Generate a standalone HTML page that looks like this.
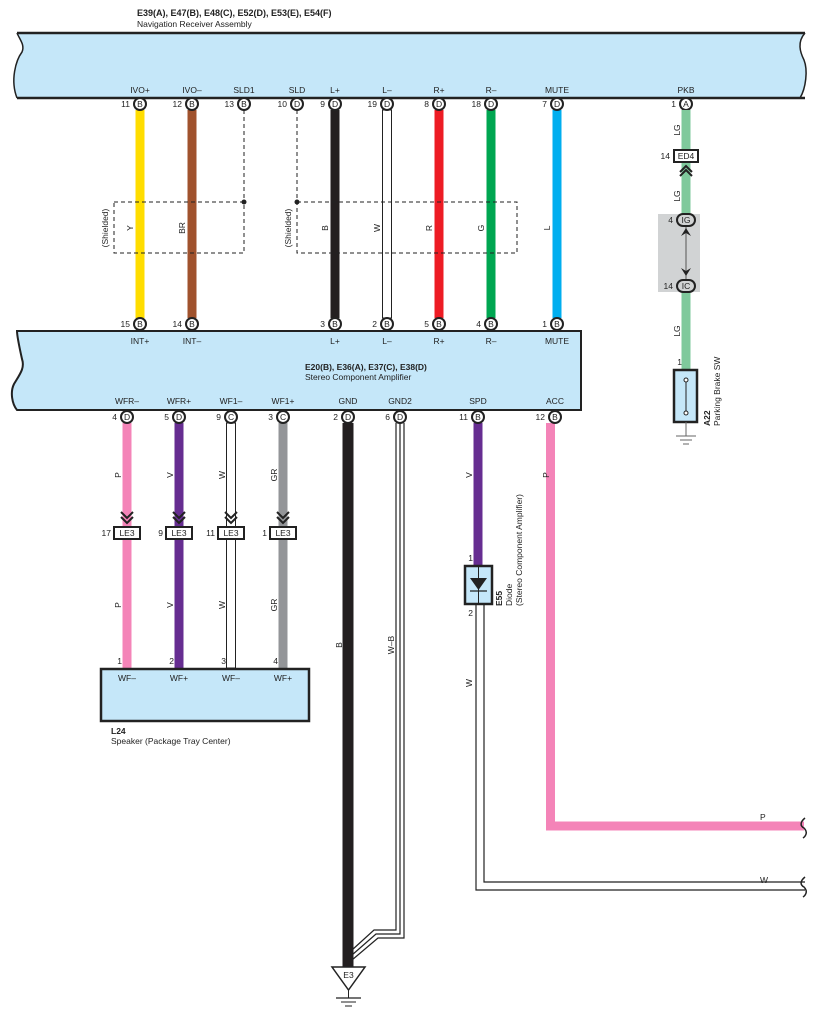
<!DOCTYPE html>
<html><head><meta charset="utf-8"><style>
html,body{margin:0;padding:0;background:#fff}
svg{display:block;font-family:"Liberation Sans",sans-serif}
</style></head><body>
<svg width="816" height="1021" viewBox="0 0 816 1021">
<defs>
<g id="pin"><circle r="6" fill="#fff" stroke="#222" stroke-width="2"/></g>
</defs>
<!-- top box -->
<path d="M17,33 H805 C797,42 800,52 804,60 C808,70 806,88 800,98 H17 C10,80 16,60 22,52 C25,45 20,40 17,33 Z" fill="#c5e7f9" stroke="none"/>
<path d="M17,33 C20,40 25,45 22,52 C16,60 10,80 17,98" fill="none" stroke="#222" stroke-width="1.5"/>
<path d="M805,33 C797,42 800,52 804,60 C808,70 806,88 800,98" fill="none" stroke="#222" stroke-width="1.5"/>
<line x1="17" y1="33" x2="805" y2="33" stroke="#222" stroke-width="2.5"/>
<line x1="17" y1="98" x2="805" y2="98" stroke="#222" stroke-width="2.5"/>
<text x="137" y="16" font-size="9" font-weight="bold" fill="#222">E39(A), E47(B), E48(C), E52(D), E53(E), E54(F)</text>
<text x="137" y="27" font-size="8.5" fill="#222">Navigation Receiver Assembly</text>
<g font-size="8.5" fill="#222" text-anchor="middle">
<text x="140" y="93">IVO+</text><text x="192" y="93">IVO–</text><text x="244" y="93">SLD1</text><text x="297" y="93">SLD</text><text x="335" y="93">L+</text><text x="387" y="93">L–</text><text x="439" y="93">R+</text><text x="491" y="93">R–</text><text x="557" y="93">MUTE</text><text x="686" y="93">PKB</text>
</g>
<!-- wires top-mid -->
<rect x="135.5" y="110" width="9" height="208" fill="#ffdd00"/>
<rect x="187.5" y="110" width="9" height="208" fill="#a0522d"/>
<rect x="330.5" y="110" width="9" height="208" fill="#231f20"/>
<rect x="382.5" y="110" width="9" height="208" fill="#fff" stroke="#222" stroke-width="1"/>
<rect x="434.5" y="110" width="9" height="208" fill="#ed1c24"/>
<rect x="486.5" y="110" width="9" height="208" fill="#00a651"/>
<rect x="552.5" y="110" width="9" height="208" fill="#00aeef"/>
<line x1="244" y1="110" x2="244" y2="202" stroke="#222" stroke-dasharray="4,3"/>
<line x1="297" y1="110" x2="297" y2="202" stroke="#222" stroke-dasharray="4,3"/>
<rect x="114" y="202" width="130" height="51" fill="none" stroke="#222" stroke-dasharray="4,3"/>
<rect x="297" y="202" width="220" height="51" fill="none" stroke="#222" stroke-dasharray="4,3"/>
<circle cx="244" cy="202" r="2.5" fill="#222"/><circle cx="297" cy="202" r="2.5" fill="#222"/>
<g font-size="8.5" fill="#222">
<text transform="translate(108,228) rotate(-90)" text-anchor="middle">(Shielded)</text>
<text transform="translate(291,228) rotate(-90)" text-anchor="middle">(Shielded)</text>
<text transform="translate(133,228) rotate(-90)" text-anchor="middle">Y</text>
<text transform="translate(185,228) rotate(-90)" text-anchor="middle">BR</text>
<text transform="translate(328,228) rotate(-90)" text-anchor="middle">B</text>
<text transform="translate(380,228) rotate(-90)" text-anchor="middle">W</text>
<text transform="translate(432,228) rotate(-90)" text-anchor="middle">R</text>
<text transform="translate(484,228) rotate(-90)" text-anchor="middle">G</text>
<text transform="translate(550,228) rotate(-90)" text-anchor="middle">L</text>
</g>
<!-- top pins -->
<g font-size="8.5" fill="#222">
<g transform="translate(140,104)"><use href="#pin"/><text x="0" y="3" text-anchor="middle">B</text><text x="-10" y="3" text-anchor="end">11</text></g>
<g transform="translate(192,104)"><use href="#pin"/><text x="0" y="3" text-anchor="middle">B</text><text x="-10" y="3" text-anchor="end">12</text></g>
<g transform="translate(244,104)"><use href="#pin"/><text x="0" y="3" text-anchor="middle">B</text><text x="-10" y="3" text-anchor="end">13</text></g>
<g transform="translate(297,104)"><use href="#pin"/><text x="0" y="3" text-anchor="middle">D</text><text x="-10" y="3" text-anchor="end">10</text></g>
<g transform="translate(335,104)"><use href="#pin"/><text x="0" y="3" text-anchor="middle">D</text><text x="-10" y="3" text-anchor="end">9</text></g>
<g transform="translate(387,104)"><use href="#pin"/><text x="0" y="3" text-anchor="middle">D</text><text x="-10" y="3" text-anchor="end">19</text></g>
<g transform="translate(439,104)"><use href="#pin"/><text x="0" y="3" text-anchor="middle">D</text><text x="-10" y="3" text-anchor="end">8</text></g>
<g transform="translate(491,104)"><use href="#pin"/><text x="0" y="3" text-anchor="middle">D</text><text x="-10" y="3" text-anchor="end">18</text></g>
<g transform="translate(557,104)"><use href="#pin"/><text x="0" y="3" text-anchor="middle">D</text><text x="-10" y="3" text-anchor="end">7</text></g>
<g transform="translate(686,104)"><use href="#pin"/><text x="0" y="3" text-anchor="middle">A</text><text x="-10" y="3" text-anchor="end">1</text></g>
<!-- amp top pins -->
<g transform="translate(140,324)"><use href="#pin"/><text x="0" y="3" text-anchor="middle">B</text><text x="-10" y="3" text-anchor="end">15</text></g>
<g transform="translate(192,324)"><use href="#pin"/><text x="0" y="3" text-anchor="middle">B</text><text x="-10" y="3" text-anchor="end">14</text></g>
<g transform="translate(335,324)"><use href="#pin"/><text x="0" y="3" text-anchor="middle">B</text><text x="-10" y="3" text-anchor="end">3</text></g>
<g transform="translate(387,324)"><use href="#pin"/><text x="0" y="3" text-anchor="middle">B</text><text x="-10" y="3" text-anchor="end">2</text></g>
<g transform="translate(439,324)"><use href="#pin"/><text x="0" y="3" text-anchor="middle">B</text><text x="-10" y="3" text-anchor="end">5</text></g>
<g transform="translate(491,324)"><use href="#pin"/><text x="0" y="3" text-anchor="middle">B</text><text x="-10" y="3" text-anchor="end">4</text></g>
<g transform="translate(557,324)"><use href="#pin"/><text x="0" y="3" text-anchor="middle">B</text><text x="-10" y="3" text-anchor="end">1</text></g>
</g>
<!-- amp box -->
<path d="M17,331 H581 V410 H17 C12,404 10,392 14,384 C20,374 25,368 22,359 C20,350 17,336 17,331 Z" fill="#c5e7f9" stroke="#222" stroke-width="2"/>
<g font-size="8.5" fill="#222" text-anchor="middle">
<text x="140" y="344">INT+</text><text x="192" y="344">INT–</text><text x="335" y="344">L+</text><text x="387" y="344">L–</text><text x="439" y="344">R+</text><text x="491" y="344">R–</text><text x="557" y="344">MUTE</text>
<text x="127" y="404">WFR–</text><text x="179" y="404">WFR+</text><text x="231" y="404">WF1–</text><text x="283" y="404">WF1+</text><text x="348" y="404">GND</text><text x="400" y="404">GND2</text><text x="478" y="404">SPD</text><text x="555" y="404">ACC</text>
</g>
<text x="305" y="370" font-size="8.5" font-weight="bold" fill="#222">E20(B), E36(A), E37(C), E38(D)</text>
<text x="305" y="380" font-size="8.5" fill="#222">Stereo Component Amplifier</text>
<!-- lower wires -->
<rect x="122.5" y="423" width="9" height="245" fill="#f484b8"/>
<rect x="174.5" y="423" width="9" height="245" fill="#662d91"/>
<rect x="226.5" y="423" width="9" height="245" fill="#fff" stroke="#222" stroke-width="1"/>
<rect x="278.5" y="423" width="9" height="245" fill="#939598"/>
<rect x="473.5" y="423" width="9" height="143" fill="#662d91"/>
<rect x="342.5" y="423" width="11" height="545" fill="#231f20"/>
<path d="M550.5,423 V826 H804" fill="none" stroke="#f484b8" stroke-width="9"/>
<!-- W from diode -->
<path d="M476,604 V890 H805 M484,604 V882 H805" fill="none" stroke="#222" stroke-width="1.2"/>
<!-- GND2 triple -->
<path d="M396,423 V930 H374 L352,950 M400,423 V934 H376 L352,955 M404,423 V938 H378 L352,960" fill="none" stroke="#222" stroke-width="1.2"/>
<!-- right breaks -->
<path d="M805,818 C800,822 800,826 804,828 C808,832 806,836 803,838" fill="none" stroke="#222" stroke-width="1.5"/>
<path d="M805,877 C800,881 800,885 804,887 C808,891 806,895 803,897" fill="none" stroke="#222" stroke-width="1.5"/>
<text x="760" y="820" font-size="8.5" fill="#222">P</text>
<text x="760" y="883" font-size="8.5" fill="#222">W</text>
<!-- lower pins -->
<g font-size="8.5" fill="#222">
<g transform="translate(127,417)"><use href="#pin"/><text x="0" y="3" text-anchor="middle">D</text><text x="-10" y="3" text-anchor="end">4</text></g>
<g transform="translate(179,417)"><use href="#pin"/><text x="0" y="3" text-anchor="middle">D</text><text x="-10" y="3" text-anchor="end">5</text></g>
<g transform="translate(231,417)"><use href="#pin"/><text x="0" y="3" text-anchor="middle">C</text><text x="-10" y="3" text-anchor="end">9</text></g>
<g transform="translate(283,417)"><use href="#pin"/><text x="0" y="3" text-anchor="middle">C</text><text x="-10" y="3" text-anchor="end">3</text></g>
<g transform="translate(348,417)"><use href="#pin"/><text x="0" y="3" text-anchor="middle">D</text><text x="-10" y="3" text-anchor="end">2</text></g>
<g transform="translate(400,417)"><use href="#pin"/><text x="0" y="3" text-anchor="middle">D</text><text x="-10" y="3" text-anchor="end">6</text></g>
<g transform="translate(478,417)"><use href="#pin"/><text x="0" y="3" text-anchor="middle">B</text><text x="-10" y="3" text-anchor="end">11</text></g>
<g transform="translate(555,417)"><use href="#pin"/><text x="0" y="3" text-anchor="middle">B</text><text x="-10" y="3" text-anchor="end">12</text></g>
</g>
<!-- LE3 connectors -->
<g font-size="8.5" fill="#222">
<g transform="translate(127,533)"><path d="M-6,-21 L0,-15 L6,-21 M-6,-16 L0,-10 L6,-16" fill="none" stroke="#222" stroke-width="2"/><rect x="-13" y="-6" width="26" height="12" fill="#fff" stroke="#222" stroke-width="2"/><text x="0" y="3" text-anchor="middle">LE3</text><text x="-16" y="3" text-anchor="end">17</text></g>
<g transform="translate(179,533)"><path d="M-6,-21 L0,-15 L6,-21 M-6,-16 L0,-10 L6,-16" fill="none" stroke="#222" stroke-width="2"/><rect x="-13" y="-6" width="26" height="12" fill="#fff" stroke="#222" stroke-width="2"/><text x="0" y="3" text-anchor="middle">LE3</text><text x="-16" y="3" text-anchor="end">9</text></g>
<g transform="translate(231,533)"><path d="M-6,-21 L0,-15 L6,-21 M-6,-16 L0,-10 L6,-16" fill="none" stroke="#222" stroke-width="2"/><rect x="-13" y="-6" width="26" height="12" fill="#fff" stroke="#222" stroke-width="2"/><text x="0" y="3" text-anchor="middle">LE3</text><text x="-16" y="3" text-anchor="end">11</text></g>
<g transform="translate(283,533)"><path d="M-6,-21 L0,-15 L6,-21 M-6,-16 L0,-10 L6,-16" fill="none" stroke="#222" stroke-width="2"/><rect x="-13" y="-6" width="26" height="12" fill="#fff" stroke="#222" stroke-width="2"/><text x="0" y="3" text-anchor="middle">LE3</text><text x="-16" y="3" text-anchor="end">1</text></g>
</g>
<g font-size="8.5" fill="#222">
<text transform="translate(121,475) rotate(-90)" text-anchor="middle">P</text>
<text transform="translate(173,475) rotate(-90)" text-anchor="middle">V</text>
<text transform="translate(225,475) rotate(-90)" text-anchor="middle">W</text>
<text transform="translate(277,475) rotate(-90)" text-anchor="middle">GR</text>
<text transform="translate(472,475) rotate(-90)" text-anchor="middle">V</text>
<text transform="translate(549,475) rotate(-90)" text-anchor="middle">P</text>
<text transform="translate(121,605) rotate(-90)" text-anchor="middle">P</text>
<text transform="translate(173,605) rotate(-90)" text-anchor="middle">V</text>
<text transform="translate(225,605) rotate(-90)" text-anchor="middle">W</text>
<text transform="translate(277,605) rotate(-90)" text-anchor="middle">GR</text>
<text transform="translate(342,645) rotate(-90)" text-anchor="middle">B</text>
<text transform="translate(394,645) rotate(-90)" text-anchor="middle">W–B</text>
<text transform="translate(472,683) rotate(-90)" text-anchor="middle">W</text>
<text x="122" y="664" text-anchor="end">1</text><text x="174" y="664" text-anchor="end">2</text><text x="226" y="664" text-anchor="end">3</text><text x="278" y="664" text-anchor="end">4</text>
<text x="473" y="561" text-anchor="end">1</text><text x="473" y="616" text-anchor="end">2</text>
</g>
<!-- speaker -->
<rect x="101" y="669" width="208" height="52" fill="#c5e7f9" stroke="#222" stroke-width="2.5"/>
<g font-size="8.5" fill="#222" text-anchor="middle"><text x="127" y="681">WF–</text><text x="179" y="681">WF+</text><text x="231" y="681">WF–</text><text x="283" y="681">WF+</text></g>
<text x="111" y="734" font-size="8.5" font-weight="bold" fill="#222">L24</text>
<text x="111" y="744" font-size="8.5" fill="#222">Speaker (Package Tray Center)</text>
<!-- diode -->
<rect x="465" y="566" width="27" height="38" fill="#c5e7f9" stroke="#222" stroke-width="2.5"/>
<line x1="478.5" y1="566" x2="478.5" y2="604" stroke="#222" stroke-width="1"/>
<path d="M470,578 H487 L478.5,590 Z" fill="#222"/><line x1="470" y1="591" x2="487" y2="591" stroke="#222" stroke-width="1.2"/>
<g font-size="8.5" fill="#222">
<text transform="translate(502,606) rotate(-90)" font-weight="bold">E55</text>
<text transform="translate(512,606) rotate(-90)">Diode</text>
<text transform="translate(522,606) rotate(-90)">(Stereo Component Amplifier)</text>
</g>
<!-- ground E3 -->
<path d="M332,967 H365 L348.5,990 Z" fill="#fff" stroke="#222" stroke-width="1.5"/>
<text x="348.5" y="978" font-size="8.5" fill="#222" text-anchor="middle">E3</text>
<line x1="348.5" y1="990" x2="348.5" y2="998" stroke="#222"/>
<line x1="336" y1="998" x2="361" y2="998" stroke="#222" stroke-width="1.2"/>
<line x1="341" y1="1002" x2="356" y2="1002" stroke="#222"/>
<line x1="345" y1="1006" x2="352" y2="1006" stroke="#222"/>
<!-- PKB chain -->
<rect x="658" y="214" width="42" height="78" fill="#d1d3d4"/>
<rect x="681.5" y="110" width="9" height="260" fill="#7fc99c"/>
<rect x="681.5" y="226" width="9" height="54" fill="#d1d3d4"/>
<line x1="686" y1="226" x2="686" y2="280" stroke="#555" stroke-width="1"/>
<path d="M681,236 L686,228 L691,236 L686,233 Z M681,268 L686,276 L691,268 L686,271 Z" fill="#222"/>
<path d="M680,176 L686,170 L692,176 M680,172 L686,166 L692,172" fill="none" stroke="#222" stroke-width="2"/>
<g font-size="8.5" fill="#222">
<rect x="674" y="150" width="24" height="12" fill="#fff" stroke="#222" stroke-width="2"/><text x="686" y="159" text-anchor="middle">ED4</text><text x="670" y="159" text-anchor="end">14</text>
<rect x="677" y="214" width="18" height="12" rx="6" fill="#d1d3d4" stroke="#222" stroke-width="2"/><text x="686" y="223" text-anchor="middle">IG</text><text x="673" y="223" text-anchor="end">4</text>
<rect x="677" y="280" width="18" height="12" rx="6" fill="#d1d3d4" stroke="#222" stroke-width="2"/><text x="686" y="289" text-anchor="middle">IC</text><text x="673" y="289" text-anchor="end">14</text>
<text transform="translate(680,130) rotate(-90)" text-anchor="middle">LG</text>
<text transform="translate(680,196) rotate(-90)" text-anchor="middle">LG</text>
<text transform="translate(680,331) rotate(-90)" text-anchor="middle">LG</text>
<text x="682" y="365" text-anchor="end">1</text>
</g>
<rect x="674" y="370" width="23" height="52" fill="#c5e7f9" stroke="#222" stroke-width="2.5"/>
<line x1="686" y1="380" x2="686" y2="412" stroke="#222"/>
<circle cx="686" cy="380" r="2" fill="#fff" stroke="#222"/><circle cx="686" cy="413" r="2" fill="#fff" stroke="#222"/>
<line x1="686" y1="422" x2="686" y2="436" stroke="#666"/>
<line x1="676" y1="436" x2="696" y2="436" stroke="#666"/><line x1="680" y1="440" x2="692" y2="440" stroke="#666"/><line x1="683" y1="444" x2="689" y2="444" stroke="#666"/>
<text transform="translate(710,426) rotate(-90)" font-size="8.5" font-weight="bold" fill="#222">A22</text>
<text transform="translate(720,426) rotate(-90)" font-size="8.5" fill="#222">Parking Brake SW</text>
</svg>
</body></html>
